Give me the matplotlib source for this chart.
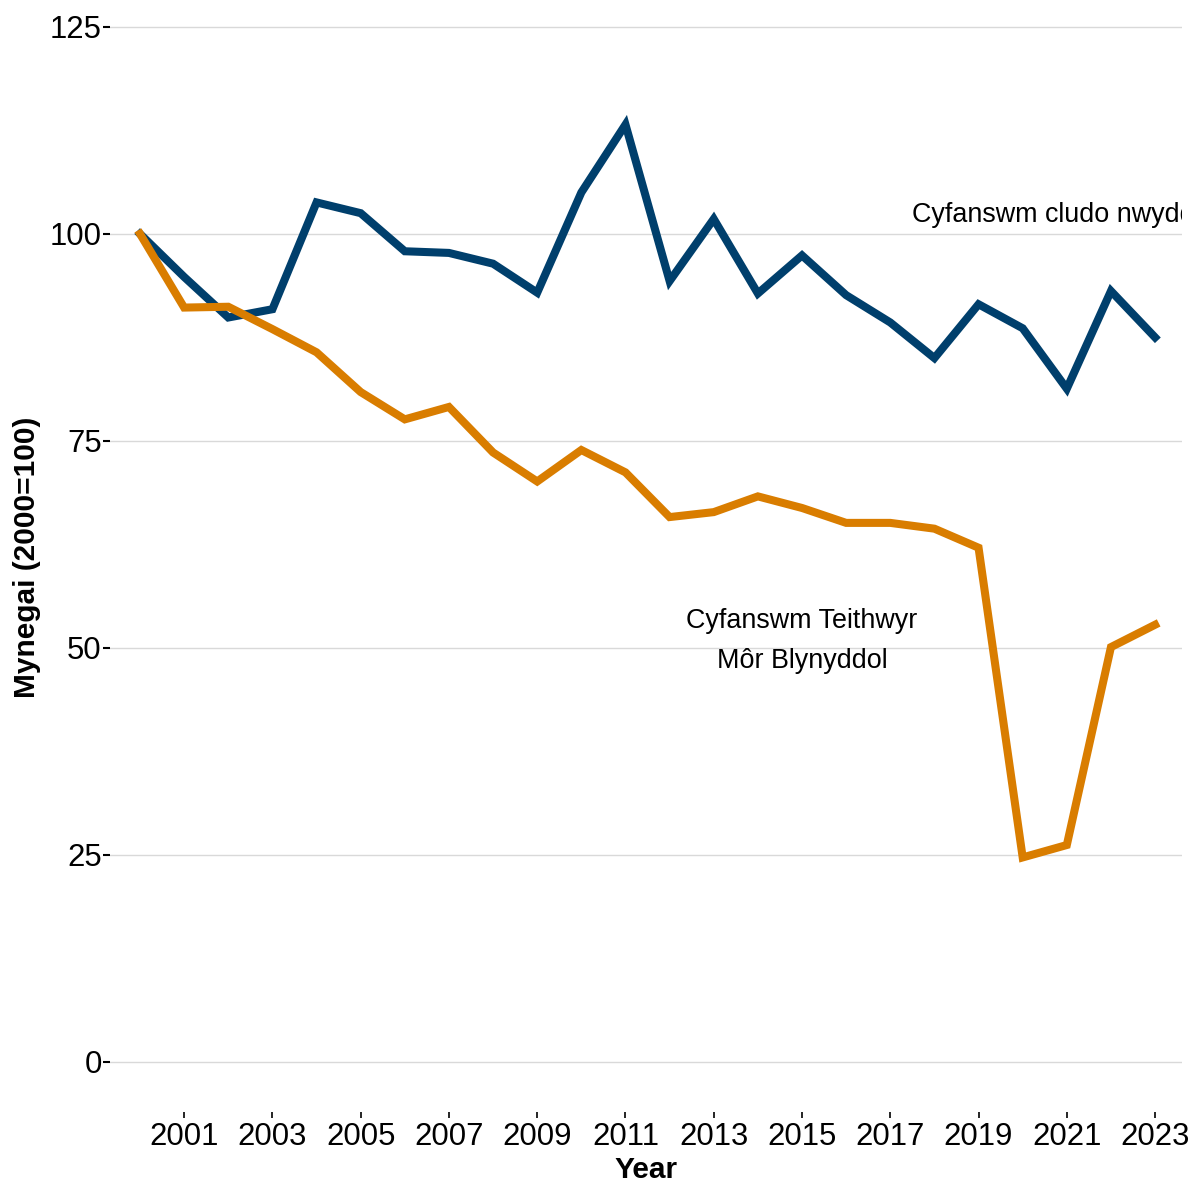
import matplotlib
matplotlib.use("Agg")
import matplotlib.pyplot as plt

years = list(range(2000, 2024))
freight = [100, 94.8, 89.9, 90.9, 103.8, 102.5, 97.9, 97.7, 96.4, 92.9,
           105.0, 113.2, 94.3, 101.8, 92.8, 97.4, 92.6, 89.3, 85.0, 91.5,
           88.6, 81.3, 93.1, 87.5]
passengers = [100, 91.1, 91.2, 88.5, 85.7, 80.9, 77.6, 79.1, 73.6, 70.1,
              73.9, 71.2, 65.8, 66.4, 68.3, 66.9, 65.1, 65.1, 64.4, 62.1,
              24.7, 26.2, 50.1, 52.8]

x_ticks = list(range(2001, 2024, 2))
y_ticks = [0, 25, 50, 75, 100, 125]

blue = "#003f6c"
orange = "#d97d00"

plt.rcParams["font.family"] = ["Liberation Sans", "DejaVu Sans"]

fig = plt.figure(figsize=(11.92, 11.84), dpi=100)
ax = fig.add_axes([110 / 1192, 72 / 1184, 1072 / 1192, 1110 / 1184])

ax.plot(years, freight, color=blue, lw=5.8, solid_joinstyle="miter", zorder=3)
ax.plot(years, passengers, color=orange, lw=5.8, solid_joinstyle="miter", zorder=3)

ax.set_xlim(1999.32, 2023.61)
ax.set_ylim(-6.04, 128.0)
ax.set_xticks(x_ticks)
ax.set_yticks(y_ticks)

ax.grid(axis="y", color="#d9d9d9", lw=1)
ax.set_axisbelow(True)
for s in ax.spines.values():
    s.set_visible(False)

ax.tick_params(axis="y", length=5, width=1.5, pad=1, labelsize=22.4)
ax.tick_params(axis="x", length=4.5, width=1.2, pad=2.5, labelsize=22.4)

ax.set_xlabel("Year", fontsize=21.5, fontweight="bold", labelpad=3)
ax.set_ylabel("Mynegai (2000=100)", fontsize=21.5, fontweight="bold", labelpad=6)

ax.text(2017.5, 102.3, "Cyfanswm cludo nwyddau", fontsize=19.4, ha="left",
        va="center", clip_on=True)
ax.text(2015.0, 53.3, "Cyfanswm Teithwyr", fontsize=19.4, ha="center", va="center")
ax.text(2015.0, 48.4, "Môr Blynyddol", fontsize=19.4, ha="center", va="center")

fig.savefig("out.png", dpi=100)
